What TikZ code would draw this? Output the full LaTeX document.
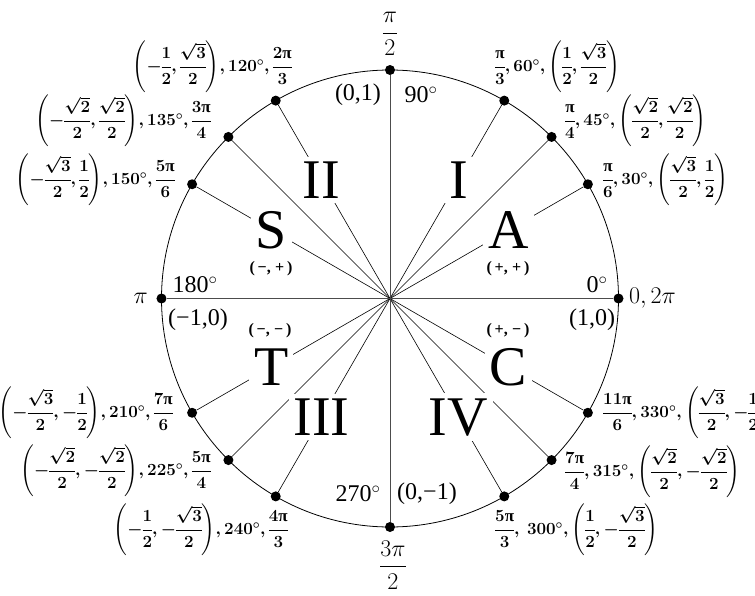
\RequirePackage{fix-cm}
\documentclass[tikz,border=0pt]{standalone}
\usepackage{amsmath}
\usepackage{fontspec}
\setmainfont{Liberation Serif}
\DeclareSymbolFont{operators}{TU}{\rmdefault}{m}{n}
\SetSymbolFont{operators}{bold}{TU}{\rmdefault}{b}{n}
\usepackage{tikz}
\usetikzlibrary{calc}
\newcommand{\bpi}{\text{π}}
\setlength{\nulldelimiterspace}{0pt}
\tikzset{
  rim/.style={line width=0.8pt},
  ray/.style={line width=0.6pt},
  ax/.style={line width=0.9pt,black!70},
  dot/.style={circle,fill,inner sep=0pt,minimum size=10pt},
  quad/.style={fill=white,inner sep=5pt,font=\fontsize{56}{60}\selectfont},
  big/.style={inner sep=1pt,font=\fontsize{24}{28}\selectfont},
  sgn/.style={inner sep=1pt,font=\fontsize{16}{18}\selectfont\bfseries},
  lbl/.style={inner sep=0pt,font=\fontsize{17}{20}\selectfont\bfseries\boldmath}
}

\begin{document}
\begin{tikzpicture}[x=1pt,y=1pt]
\useasboundingbox (-390,-296.5) rectangle (365,298.5);
\coordinate (o) at (0,0);
\draw[rim] (o) circle (228.5);
% points on the circle
\foreach \a in {0,30,45,60,90,120,135,150,180,210,225,240,270,300,315,330}
  \node[dot] (d\a) at (\a:228.5) {};
% radii and axes
\foreach \a in {30,45,60,120,135,150,210,225,240,300,315,330}
  \draw[ray] (o) -- (d\a);
\draw[ax] (d180) -- (d0);
\draw[ax] (d270) -- (d90);
% quadrants
\foreach \a/\t/\n in {60/I/qI,120/II/qII,240/III/qIII,300/IV/qIV,30/A/qA,150/S/qS,210/T/qT,330/C/qC}
  \node[quad] (\n) at (\a:137) {\t};
\node[sgn] (sA) at (118,29.5) {(\,+,\;+\,)};
\node[sgn] (sS) at (-119,29.5) {(\,−,\;+\,)};
\node[sgn] (sT) at (-120,-32.5) {(\,−,\;−\,)};
\node[sgn] (sC) at (118,-32.5) {(\,+,\;−\,)};
% axis labels
\node[big] (t90) at (0,264.5) {$\dfrac{\pi}{2}$};
\node[big] (t270) at (3,-266.5) {$\dfrac{3\pi}{2}$};
\node[big,anchor=east] (t180) at (-241,0) {$\pi$};
\node[big,anchor=west] (t0) at (238,0) {$0,2\pi$};
\node[big] (c90) at (-32,203.5) {(0,1)};
\node[big] (g90) at (31,203.5) {90$^\circ$};
\node[big] (g270) at (-32,-195.5) {270$^\circ$};
\node[big] (c270) at (37,-195.5) {(0,−1)};
\node[big] (g180) at (-195,13.5) {180$^\circ$};
\node[big] (c180) at (-192,-21.5) {(−1,0)};
\node[big] (g0) at (207,13.5) {0$^\circ$};
\node[big] (c0) at (202,-21.5) {(1,0)};
% special angles
\node[lbl,anchor=west] (l60) at (105,231.5) {$\dfrac{\bpi}{3},60^\circ,\left(\dfrac{1}{2},\dfrac{\sqrt{3}}{2}\right)$};
\node[lbl,anchor=west] (l45) at (175,177.5) {$\dfrac{\bpi}{4},45^\circ,\left(\dfrac{\sqrt{2}}{2},\dfrac{\sqrt{2}}{2}\right)$};
\node[lbl,anchor=west] (l30) at (213,118.5) {$\dfrac{\bpi}{6},30^\circ,\left(\dfrac{\sqrt{3}}{2},\dfrac{1}{2}\right)$};
\node[lbl,anchor=west] (l330) at (213,-114.5) {$\dfrac{11\bpi}{6},330^\circ,\left(\dfrac{\sqrt{3}}{2},-\dfrac{1}{2}\right)$};
\node[lbl,anchor=west] (l315) at (175,-173.5) {$\dfrac{7\bpi}{4},315^\circ,\left(\dfrac{\sqrt{2}}{2},-\dfrac{\sqrt{2}}{2}\right)$};
\node[lbl,anchor=west] (l300) at (105,-231.5) {$\dfrac{5\bpi}{3},\ 300^\circ,\left(\dfrac{1}{2},-\dfrac{\sqrt{3}}{2}\right)$};
\node[lbl,anchor=east] (l120) at (-98,231.5) {$\left(-\dfrac{1}{2},\dfrac{\sqrt{3}}{2}\right)\!,120^\circ,\dfrac{2\bpi}{3}$};
\node[lbl,anchor=east] (l135) at (-179,177.5) {$\left(-\dfrac{\sqrt{2}}{2},\dfrac{\sqrt{2}}{2}\right)\!,135^\circ,\dfrac{3\bpi}{4}$};
\node[lbl,anchor=east] (l150) at (-215,118.5) {$\left(-\dfrac{\sqrt{3}}{2},\dfrac{1}{2}\right)\!,150^\circ,\dfrac{5\bpi}{6}$};
\node[lbl,anchor=east] (l210) at (-217,-114.5) {$\left(-\dfrac{\sqrt{3}}{2},-\dfrac{1}{2}\right)\!,210^\circ,\dfrac{7\bpi}{6}$};
\node[lbl,anchor=east] (l225) at (-179,-172.5) {$\left(-\dfrac{\sqrt{2}}{2},-\dfrac{\sqrt{2}}{2}\right)\!,225^\circ,\dfrac{5\bpi}{4}$};
\node[lbl,anchor=east] (l240) at (-102,-231.5) {$\left(-\dfrac{1}{2},-\dfrac{\sqrt{3}}{2}\right)\!,240^\circ,\dfrac{4\bpi}{3}$};
\end{tikzpicture}
\end{document}
